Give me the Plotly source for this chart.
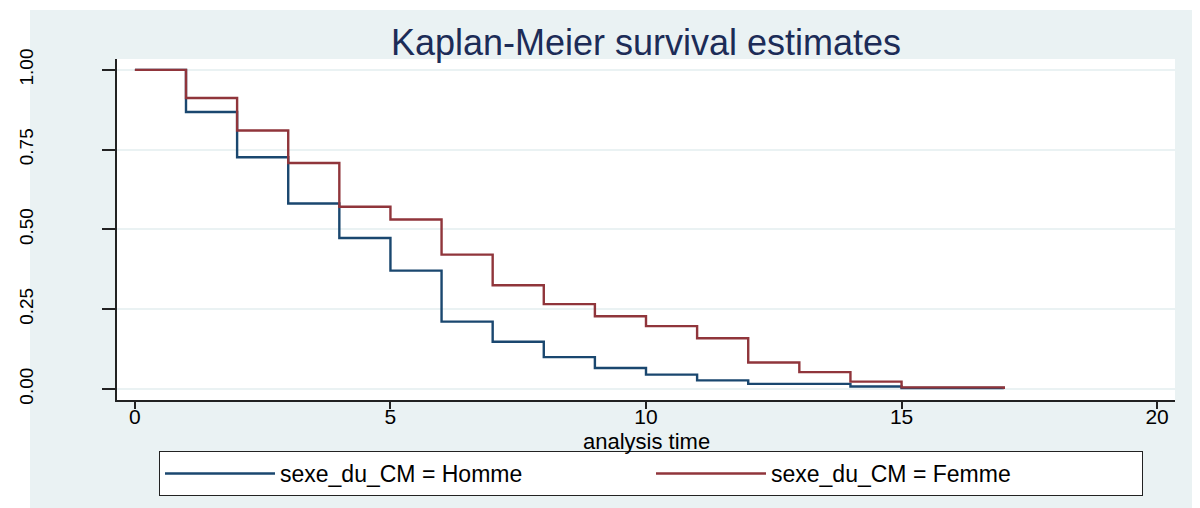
import plotly.graph_objects as go

# ---- data ----
times = [0, 1, 2, 3, 4, 5, 6, 7, 8, 9, 10, 11, 12, 13, 14, 15, 16, 17]
surv_homme = [1.0, 0.868, 0.726, 0.581, 0.473, 0.371, 0.211, 0.148, 0.100, 0.066,
              0.045, 0.027, 0.016, 0.016, 0.008, 0.003, 0.003, 0.0]
surv_femme = [1.0, 0.912, 0.810, 0.708, 0.571, 0.531, 0.421, 0.325, 0.266, 0.228,
              0.197, 0.159, 0.083, 0.053, 0.023, 0.005, 0.005, 0.0]
labels = ["sexe_du_CM = Homme", "sexe_du_CM = Femme"]
x_ticks = [0, 5, 10, 15, 20]
y_ticks = [0.0, 0.25, 0.5, 0.75, 1.0]
y_ticktext = ["0.00", "0.25", "0.50", "0.75", "1.00"]
x_title = "analysis time"

BG = "#eaf2f3"
NAVY = "#1a476f"
MAROON = "#90353b"
FONT = "Liberation Sans, Arial, sans-serif"

# the page body has an 8px default margin: the figure is drawn 8px in from the
# window's top-left corner, so lay it out in window pixels minus 8
OFF = 8
W, H = 1200 - OFF, 508 - OFF
L, R, T, B = 117 - OFF, 1175 - OFF, 59 - OFF, 400 - OFF  # plot area in px

fig = go.Figure()
fig.add_trace(go.Scatter(x=times, y=surv_homme, mode="lines", line_shape="hv",
                         line=dict(color=NAVY, width=2.4), name=labels[0]))
fig.add_trace(go.Scatter(x=times, y=surv_femme, mode="lines", line_shape="hv",
                         line=dict(color=MAROON, width=2.4), name=labels[1]))

# white strips at the left and top edges, outside the light-blue graph region
px_x = lambda p: (p - L) / (R - L)
px_y = lambda p: (B - p) / (B - T)
fig.add_shape(type="rect", xref="paper", yref="paper", layer="below",
              x0=px_x(-10), x1=px_x(30 - OFF), y0=px_y(H + 10), y1=px_y(-10),
              fillcolor="white", line_width=0)
fig.add_shape(type="rect", xref="paper", yref="paper", layer="below",
              x0=px_x(-10), x1=px_x(W + 10), y0=px_y(10 - OFF), y1=px_y(-10),
              fillcolor="white", line_width=0)

# x-axis title, placed just below the tick labels
fig.add_annotation(text=x_title, xref="paper", yref="paper", x=0.5, xanchor="center",
                   y=px_y(442 - OFF), yanchor="middle", showarrow=False,
                   font=dict(size=22, family=FONT, color="black"))

fig.update_layout(
    width=W, height=H,
    paper_bgcolor=BG, plot_bgcolor="white",
    margin=dict(l=L, r=W - R, t=T, b=H - B, autoexpand=False),
    font=dict(family=FONT, color="black"),
    title=dict(text="Kaplan-Meier survival estimates", x=(L + R) / 2 / W,
               xanchor="center", y=1 - (42 - OFF) / H, yanchor="middle",
               font=dict(size=36, color="#1c2c57", family=FONT)),
    showlegend=True,
    legend=dict(orientation="h", xref="container", yref="container",
                x=(159 - OFF) / W, xanchor="left", y=1 - (451 - OFF) / H, yanchor="top",
                bgcolor="white", bordercolor="#222", borderwidth=1,
                font=dict(size=23, family=FONT, color="black"),
                itemwidth=110, entrywidth=366, traceorder="normal"),
    xaxis=dict(range=[-0.35, 20.35], tickvals=x_ticks, ticks="outside", ticklen=7,
               tickcolor="#222", tickwidth=1.5, showline=True, linecolor="#222", linewidth=1.5,
               showgrid=False, zeroline=False, tickfont=dict(size=21), automargin=True,
               ticklabelstandoff=-10),
    yaxis=dict(range=[-0.0345, 1.034], tickvals=y_ticks, ticktext=y_ticktext,
               ticks="outside", ticklen=13, tickcolor="#222", tickwidth=1.5,
               showline=True, linecolor="#222", linewidth=1.5, automargin=True,
               showgrid=True, gridcolor=BG, gridwidth=2, zeroline=False,
               tickangle=-90, tickfont=dict(size=19), ticklabelstandoff=62),
)

fig.write_html("out.html")
